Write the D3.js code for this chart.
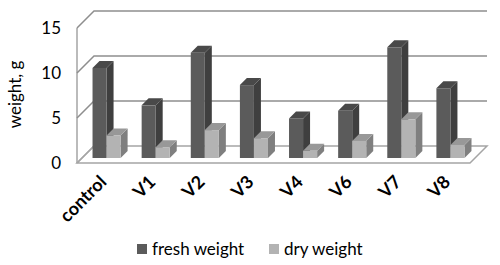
<!DOCTYPE html>
<html>
<head>
<meta charset="utf-8">
<script src="https://cdn.jsdelivr.net/npm/d3@7"></script>
<style>
  body { margin: 0; background: #fff; }
  text { font-family: Lato, "Open Sans", sans-serif; fill: #000; }
</style>
</head>
<body>
<div class="chart-container"></div>
<script>
// data
const categories = ["control", "V1", "V2", "V3", "V4", "V6", "V7", "V8"];
const series = ["fresh weight", "dry weight"];
const freshWeight = [10.0, 5.85, 11.7, 8.1, 4.4, 5.25, 12.3, 7.75];
const dryWeight = [2.5, 1.2, 3.1, 2.2, 0.8, 1.9, 4.3, 1.45];
const yTicks = [0, 5, 10, 15];

const width = 500;
const height = 265;

// front plane of the box, and how far the back wall sits behind it
const boxLeft = 77, boxRight = 470, boxBottom = 163, boxTop = 28;
const depth = 17;      // box depth (dx = depth, dy = -depth)
const barShift = 5;    // bars sit a bit behind the front edge
const barDepth = 7;

const faces = {
    "fresh weight": { front: "#5b5b5b", side: "#3f3f3f", top: "#494949" },
    "dry weight": { front: "#b3b3b3", side: "#7f7f7f", top: "#989898" }
};
const gridColor = "#8e8e8e";

const x = d3.scaleBand()
    .domain(categories)
    .range([boxLeft, boxRight]);

const xSeries = d3.scaleBand()
    .domain(series)
    .range([0, x.bandwidth()])
    .paddingOuter(0.75);

const y = d3.scaleLinear()
    .domain([0, 15])
    .range([boxBottom, boxTop]);

const svg = d3.select(".chart-container").append("svg")
    .attr("width", width)
    .attr("height", height);

const line = d3.line();

// floor
svg.append("path")
    .attr("d", line([[boxLeft, boxBottom], [boxRight, boxBottom], [boxRight + depth, boxBottom - depth], [boxLeft + depth, boxBottom - depth]]) + "Z")
    .attr("fill", "#fff")
    .attr("stroke", "#a5a5a5")
    .attr("stroke-width", 1.5);

// left wall edge + gridlines on the side wall and back wall
svg.append("line")
    .attr("x1", boxLeft).attr("x2", boxLeft)
    .attr("y1", y(0)).attr("y2", y(15))
    .attr("stroke", "#a5a5a5")
    .attr("stroke-width", 1.5);

const grid = svg.append("g");
yTicks.forEach(t => {
    const pts = [[boxLeft, y(t)], [boxLeft + depth, y(t) - depth]];
    if (t > 0) pts.push([boxRight + depth, y(t) - depth]);
    grid.append("path")
        .attr("d", line(pts))
        .attr("fill", "none")
        .attr("stroke", t === 0 ? "#a5a5a5" : gridColor)
        .attr("stroke-width", 1.5);
});

// y axis labels
const yAxis = svg.append("g")
    .attr("transform", `translate(${boxLeft},0)`)
    .call(d3.axisLeft(y).tickValues(yTicks).tickSize(0).tickPadding(16));
yAxis.select(".domain").remove();
yAxis.selectAll("text")
    .style("font-family", "Lato, sans-serif")
    .style("font-size", "17px");

svg.append("text")
    .attr("transform", `translate(21,${(boxTop + boxBottom) / 2 - 1}) rotate(-90)`)
    .attr("text-anchor", "middle")
    .style("font-size", "17px")
    .text("weight, g");

// bars
const rows = [];
categories.forEach((c, i) => {
    rows.push({ cat: c, key: "fresh weight", value: freshWeight[i] });
    rows.push({ cat: c, key: "dry weight", value: dryWeight[i] });
});

const bars = svg.append("g")
    .selectAll("g")
    .data(rows)
    .enter()
    .append("g");

bars.each(function (d) {
    const g = d3.select(this);
    const x0 = x(d.cat) + xSeries(d.key) + barShift;
    const x1 = x0 + xSeries.bandwidth();
    const y0 = y(0) - barShift;
    const y1 = y(d.value) - barShift;
    const c = faces[d.key];
    g.append("path")
        .attr("d", line([[x1, y0], [x1 + barDepth, y0 - barDepth], [x1 + barDepth, y1 - barDepth], [x1, y1]]) + "Z")
        .attr("fill", c.side);
    g.append("path")
        .attr("d", line([[x0, y1], [x1, y1], [x1 + barDepth, y1 - barDepth], [x0 + barDepth, y1 - barDepth]]) + "Z")
        .attr("fill", c.top);
    g.append("rect")
        .attr("x", x0)
        .attr("y", y1)
        .attr("width", x1 - x0)
        .attr("height", y0 - y1)
        .attr("fill", c.front);
});

// category labels, rotated
svg.append("g")
    .selectAll("text")
    .data(categories)
    .enter()
    .append("text")
    .attr("transform", d => `translate(${x(d) + x.bandwidth() / 2 + 6},183) rotate(-45)`)
    .attr("text-anchor", "end")
    .style("font-size", "18px")
    .style("font-weight", "bold")
    .text(d => d);

// legend
const legendX = d3.scalePoint()
    .domain(series)
    .range([137, 269]);

const legend = svg.append("g")
    .selectAll("g")
    .data(series)
    .enter()
    .append("g")
    .attr("transform", d => `translate(${legendX(d)},244)`);

legend.append("rect")
    .attr("width", 10)
    .attr("height", 10)
    .attr("fill", d => faces[d].front);

legend.append("text")
    .attr("x", 15)
    .attr("y", 11)
    .style("font-size", "17px")
    .text(d => d);
</script>
</body>
</html>
